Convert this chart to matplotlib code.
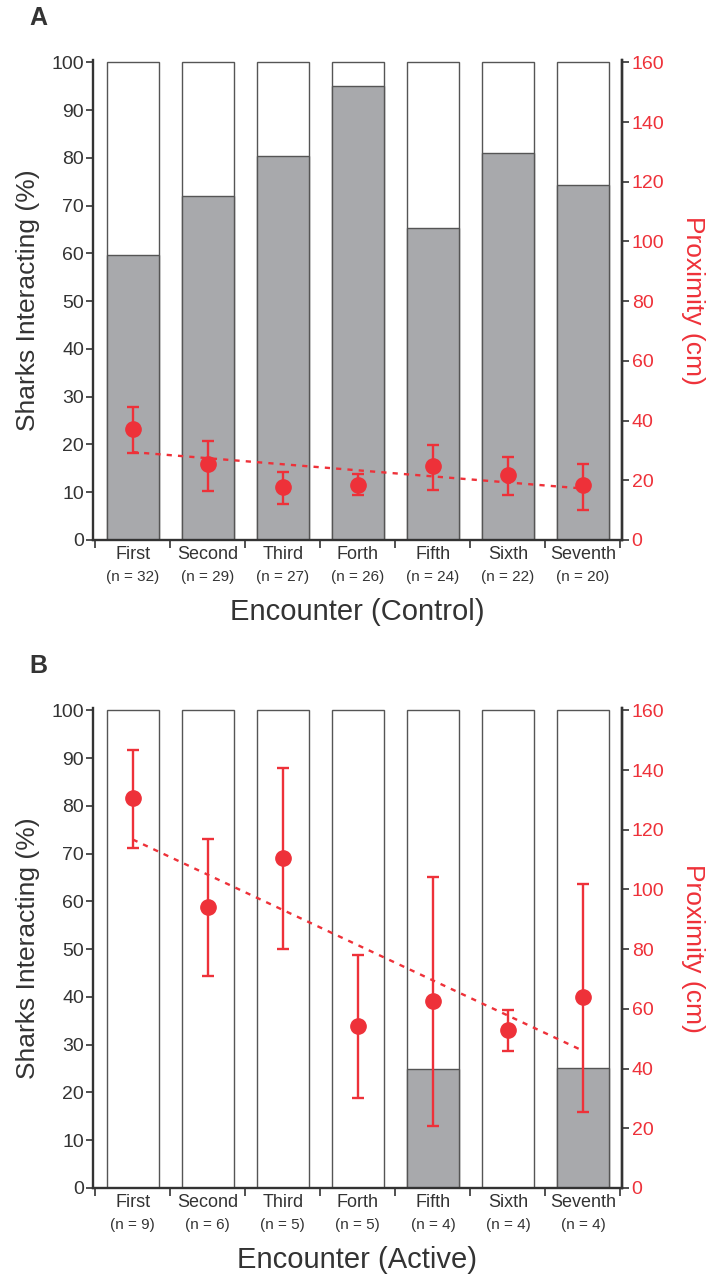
"""Shark encounter figure: % interacting (bars) with proximity (red points)."""

import matplotlib

matplotlib.use("Agg")
import matplotlib.pyplot as plt  # noqa: E402
import numpy as np  # noqa: E402

plt.rcParams.update(
    {
        "font.family": ["Liberation Sans", "DejaVu Sans"],
        "figure.facecolor": "white",
        "axes.facecolor": "white",
    }
)

encounters = ["First", "Second", "Third", "Forth", "Fifth", "Sixth", "Seventh"]

# panel A (control)
ctrl_n = [32, 29, 27, 26, 24, 22, 20]
ctrl_pct = [59.6, 72.0, 80.5, 95.0, 65.3, 81.0, 74.3]
ctrl_prox = [37.2, 25.3, 17.8, 18.3, 24.8, 21.7, 18.3]
ctrl_prox_hi = [44.7, 33.3, 22.8, 22.0, 31.7, 27.8, 25.6]
ctrl_prox_lo = [29.0, 16.4, 12.2, 15.2, 16.9, 15.0, 10.2]

# panel B (active)
act_n = [9, 6, 5, 5, 4, 4, 4]
act_pct = [0, 0, 0, 0, 24.9, 0, 25.2]
act_prox = [130.7, 94.1, 110.7, 54.3, 62.7, 53.0, 64.0]
act_prox_hi = [146.8, 116.8, 140.8, 78.0, 104.2, 59.6, 101.8]
act_prox_lo = [113.8, 71.0, 80.1, 30.2, 20.7, 46.0, 25.4]

RED = "#ee3139"
INK = "#333333"
GREY = "#a8a9ac"
EDGE = "#555555"


def draw_panel(fig, rect, letter, pct, prox, hi, lo, ns, xlabel):
    ax = fig.add_axes(rect)
    x = np.arange(len(encounters))
    ax.bar(x, [100] * len(x), width=0.7, color="white", edgecolor=EDGE, linewidth=1.0, zorder=1)
    ax.bar(x, pct, width=0.7, color=GREY, edgecolor=EDGE, linewidth=1.0, zorder=2)
    ax.set_xlim(-0.53, 6.52)
    ax.set_ylim(0, 100.5)
    ax.set_yticks(range(0, 101, 10))
    ax.spines["top"].set_visible(False)
    for s in ("left", "bottom", "right"):
        ax.spines[s].set_color(INK)
        ax.spines[s].set_linewidth(1.7)
    ax.tick_params(axis="y", direction="out", length=5, width=1.2, pad=1.5,
                   labelsize=14, colors=INK)
    ax.set_xticks(x, encounters)
    ax.tick_params(axis="x", which="major", length=0, pad=4, labelsize=13, colors=INK)
    ax.set_xticks(np.arange(len(x) + 1) - 0.5, minor=True)
    ax.tick_params(axis="x", which="minor", direction="out", length=6, width=1.2, color=INK)
    for xi, n in zip(x, ns):
        ax.annotate(f"(n = {n})", xy=(xi, 0), xycoords=("data", "axes fraction"),
                    xytext=(0, -30), textcoords="offset pixels", ha="center", va="top",
                    fontsize=11, color=INK)
    ax.annotate(xlabel, xy=(0.5, 0), xycoords="axes fraction", xytext=(0, -58),
                textcoords="offset pixels", ha="center", va="top", fontsize=21, color=INK)
    ax.set_ylabel("Sharks Interacting (%)", fontsize=19, color=INK)
    ax.yaxis.set_label_coords(-0.10, 0.5)

    ax2 = ax.twinx()
    ax2.set_ylim(0, 160.8)
    ax2.set_yticks(range(0, 161, 20))
    for s in ("top", "left", "bottom"):
        ax2.spines[s].set_visible(False)
    ax2.spines["right"].set_color(INK)
    ax2.spines["right"].set_linewidth(1.7)
    ax2.tick_params(axis="y", direction="out", length=5, width=1.2, pad=2,
                    labelsize=14, colors=INK, labelcolor=RED)
    ax2.set_ylabel("Proximity (cm)", fontsize=19, color=RED, rotation=270, va="bottom")
    ax2.yaxis.set_label_coords(1.112, 0.5)

    prox = np.array(prox)
    yerr = [prox - np.array(lo), np.array(hi) - prox]
    slope, icpt = np.polyfit(x, prox, 1)
    ax2.plot(x, slope * x + icpt, color=RED, linewidth=1.7, linestyle=(0, (2.2, 2.6)), zorder=3)
    ax2.errorbar(x, prox, yerr=yerr, fmt="o", color=RED, markersize=11, elinewidth=1.7,
                 capsize=4.5, capthick=1.7, zorder=4)

    fig.text(rect[0] - 0.09, rect[1] + rect[3] + 0.033, letter, fontsize=18,
             fontweight="bold", color=INK, ha="left", va="center")
    return ax


fig = plt.figure(figsize=(7.1, 12.74), dpi=100)
draw_panel(fig, [0.131, 1 - 540 / 1274, 0.745, 480 / 1274], "A", ctrl_pct, ctrl_prox,
           ctrl_prox_hi, ctrl_prox_lo, ctrl_n, "Encounter (Control)")
draw_panel(fig, [0.131, 1 - 1188 / 1274, 0.745, 480 / 1274], "B", act_pct, act_prox,
           act_prox_hi, act_prox_lo, act_n, "Encounter (Active)")
fig.savefig("out.png", dpi=100)
